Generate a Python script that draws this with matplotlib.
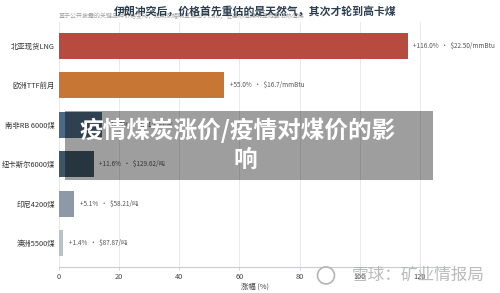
import matplotlib.pyplot as plt
import matplotlib.patches as mpatches

plt.rcParams['font.family'] = ['Noto Sans CJK SC', 'DejaVu Sans']

# 数据
categories = ["北亚现货LNG", "欧洲TTF前月", "南非RB 6000煤", "纽卡斯尔6000煤", "印尼4200煤", "澳洲5500煤"]
changes = [116.0, 55.0, 14.3, 11.6, 5.1, 1.4]
prices = ["$22.50/mmBtu", "$16.7/mmBtu", "$115.80/吨", "$129.62/吨", "$58.21/吨", "$87.87/吨"]
colors = ["#b84b40", "#c87634", "#4c6a84", "#3f5666", "#8e99a7", "#b9c1c9"]
xticks = [0, 20, 40, 60, 80, 100, 120]

fig = plt.figure(figsize=(5, 2.93), dpi=100)
ax = fig.add_axes([0.118, 0.089, 0.782, 0.836])

ypos = list(range(len(categories)))
ax.barh(ypos, changes, height=0.65, color=colors, zorder=3)
for y, v, p in zip(ypos, changes, prices):
    ax.text(v + 1.8, y, f"+{v:.1f}%  ·  {p}", va='center', ha='left',
            fontsize=4.6, color='#555555', zorder=4)

ax.set_xlim(0, 130)
ax.set_ylim(5.6, -0.6)
ax.set_yticks(ypos)
ax.set_yticklabels(categories, fontsize=5.3, color='#333333')
ax.set_xticks(xticks)
ax.set_xticklabels([str(t) for t in xticks], fontsize=5.3, color='#444444')
ax.tick_params(axis='y', length=0, pad=3)
ax.tick_params(axis='x', length=2.5, width=0.6, color='#c8ccd8', pad=2)
ax.grid(axis='x', color='#e3e5ea', linewidth=0.6, zorder=0)
for s in ['top', 'right', 'left']:
    ax.spines[s].set_visible(False)
ax.spines['bottom'].set_color('#c8ccd8')
ax.spines['bottom'].set_linewidth(0.8)
ax.set_xlabel("涨幅 (%)", fontsize=5.3, color='#444444', labelpad=1)

fig.text(0.118, 0.945, "基于公开披露的关键品种价格变动，短期涨幅明显偏向于LNG，但高热值煤明显跑赢低热值煤",
         fontsize=4.3, color='#a0a0a0', ha='left', va='center')
fig.text(0.51, 0.962, "伊朗冲突后，价格首先重估的是天然气，其次才轮到高卡煤",
         fontsize=7.8, fontweight='bold', color='#2c3e50', ha='center', va='center')

# 遮罩横幅
fig.patches.append(mpatches.Rectangle((0.13, 1 - 180 / 293), 0.736, 69 / 293,
                                      transform=fig.transFigure, facecolor='black',
                                      alpha=0.38, edgecolor='none', zorder=10))
fig.text(0.475, 1 - 130 / 293, "疫情煤炭涨价/疫情对煤价的影", fontsize=17, fontweight='heavy',
         color='white', ha='center', va='center', zorder=11)
fig.text(0.49, 1 - 160 / 293, "响", fontsize=17, fontweight='heavy',
         color='white', ha='center', va='center', zorder=11)

# 水印
fig.text(0.97, 0.06, "雪球：矿业情报局", fontsize=12, color='#b4b4b4',
         ha='right', va='center', alpha=0.9, zorder=12)
fig.patches.append(mpatches.Ellipse((0.652, 0.06), 17 / 500, 17 / 293, transform=fig.transFigure,
                                    facecolor='none', edgecolor='#b4b4b4', linewidth=1.2, zorder=12))

fig.savefig("out.png", dpi=100)
